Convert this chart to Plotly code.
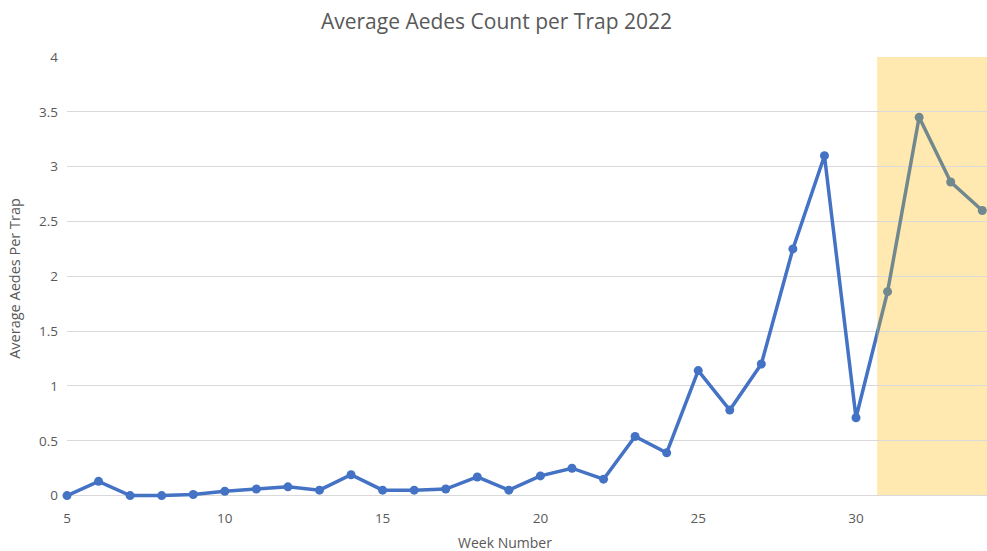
import plotly.graph_objects as go

# Weekly average Aedes count per trap, 2022
weeks = [5, 6, 7, 8, 9, 10, 11, 12, 13, 14, 15, 16, 17, 18, 19, 20,
         21, 22, 23, 24, 25, 26, 27, 28, 29, 30, 31, 32, 33, 34]
avg_aedes = [0.0, 0.13, 0.0, 0.0, 0.01, 0.04, 0.06, 0.08, 0.05, 0.19,
             0.05, 0.05, 0.06, 0.17, 0.05, 0.18, 0.25, 0.15, 0.54, 0.39,
             1.14, 0.78, 1.20, 2.25, 3.10, 0.71, 1.86, 3.45, 2.86, 2.60]

# Weeks from this one on are shown in the highlighted band
highlight_start = 30.67
x_end = 34.15
x_start = 5
y_ticks = [0, 0.5, 1, 1.5, 2, 2.5, 3, 3.5, 4]
x_ticks = [5, 10, 15, 20, 25, 30]

BLUE = "#4472C4"
GRAY = "#71888F"
BAND = "#FFE9B0"
TEXT = "#595959"
GRID = "#D9D9D9"
FONT = "Open Sans"

split = (highlight_start - x_start) / (x_end - x_start)

# index of the first week inside the highlighted band
k = next(i for i, w in enumerate(weeks) if w > highlight_start)

fig = go.Figure()

# Regular weeks: line continues one point into the band, clipped at its edge
fig.add_trace(go.Scatter(
    x=weeks[:k + 1], y=avg_aedes[:k + 1],
    mode="lines+markers",
    line=dict(color=BLUE, width=3.5),
    marker=dict(color=BLUE, size=[9] * k + [0], opacity=1, line=dict(width=0)),
    cliponaxis=False,
    xaxis="x", yaxis="y", showlegend=False,
    hoverinfo="x+y",
))

# Highlighted weeks: line starts one point before the band, clipped at its edge
fig.add_trace(go.Scatter(
    x=weeks[k - 1:], y=avg_aedes[k - 1:],
    mode="lines+markers",
    line=dict(color=GRAY, width=3.5),
    marker=dict(color=GRAY, size=[0] + [9] * (len(weeks) - k), opacity=1,
                line=dict(width=0)),
    cliponaxis=False,
    xaxis="x2", yaxis="y", showlegend=False,
    hoverinfo="x+y",
))

fig.add_shape(
    type="rect", xref="x2 domain", yref="y",
    x0=0, x1=1, y0=0, y1=4,
    fillcolor=BAND, line=dict(width=0), layer="below",
)

fig.update_layout(
    width=987, height=551,
    margin=dict(l=67, r=0, t=57, b=51),
    paper_bgcolor="white", plot_bgcolor="white",
    font=dict(family=FONT, color=TEXT, size=13),
    title=dict(
        text="Average Aedes Count per Trap 2022",
        x=0.503, xanchor="center", y=0.96, yanchor="middle",
        font=dict(size=21, color=TEXT, family=FONT),
    ),
    xaxis=dict(
        domain=[0, split], range=[x_start, highlight_start],
        tickvals=x_ticks, ticktext=[str(t) for t in x_ticks],
        showgrid=False, zeroline=False, showline=False,
        ticks="", tickfont=dict(size=13.5, color=TEXT), ticklabelstandoff=8,
        anchor="y", fixedrange=True,
    ),
    xaxis2=dict(
        domain=[split, 1], range=[highlight_start, x_end],
        showgrid=False, zeroline=False, showline=False,
        showticklabels=False, ticks="", anchor="y", fixedrange=True,
    ),
    yaxis=dict(
        range=[-0.04, 4.0],
        tickvals=y_ticks, ticktext=[f"{t:g}" for t in y_ticks],
        showgrid=True, gridcolor=GRID, gridwidth=1,
        zeroline=True, zerolinecolor=GRID, zerolinewidth=1,
        showline=False, ticks="", ticklabelstandoff=8,
        tickfont=dict(size=13.5, color=TEXT),
        title=dict(text="Average Aedes Per Trap", font=dict(size=14.5, color=TEXT),
                   standoff=14),
        fixedrange=True,
    ),
)

fig.add_annotation(
    text="Week Number", xref="paper", yref="paper",
    x=(505 - 67) / 920, y=0.0, yshift=-42, xanchor="center", yanchor="middle",
    showarrow=False, font=dict(size=14, color=TEXT, family=FONT),
)

fig.write_html("out.html")
